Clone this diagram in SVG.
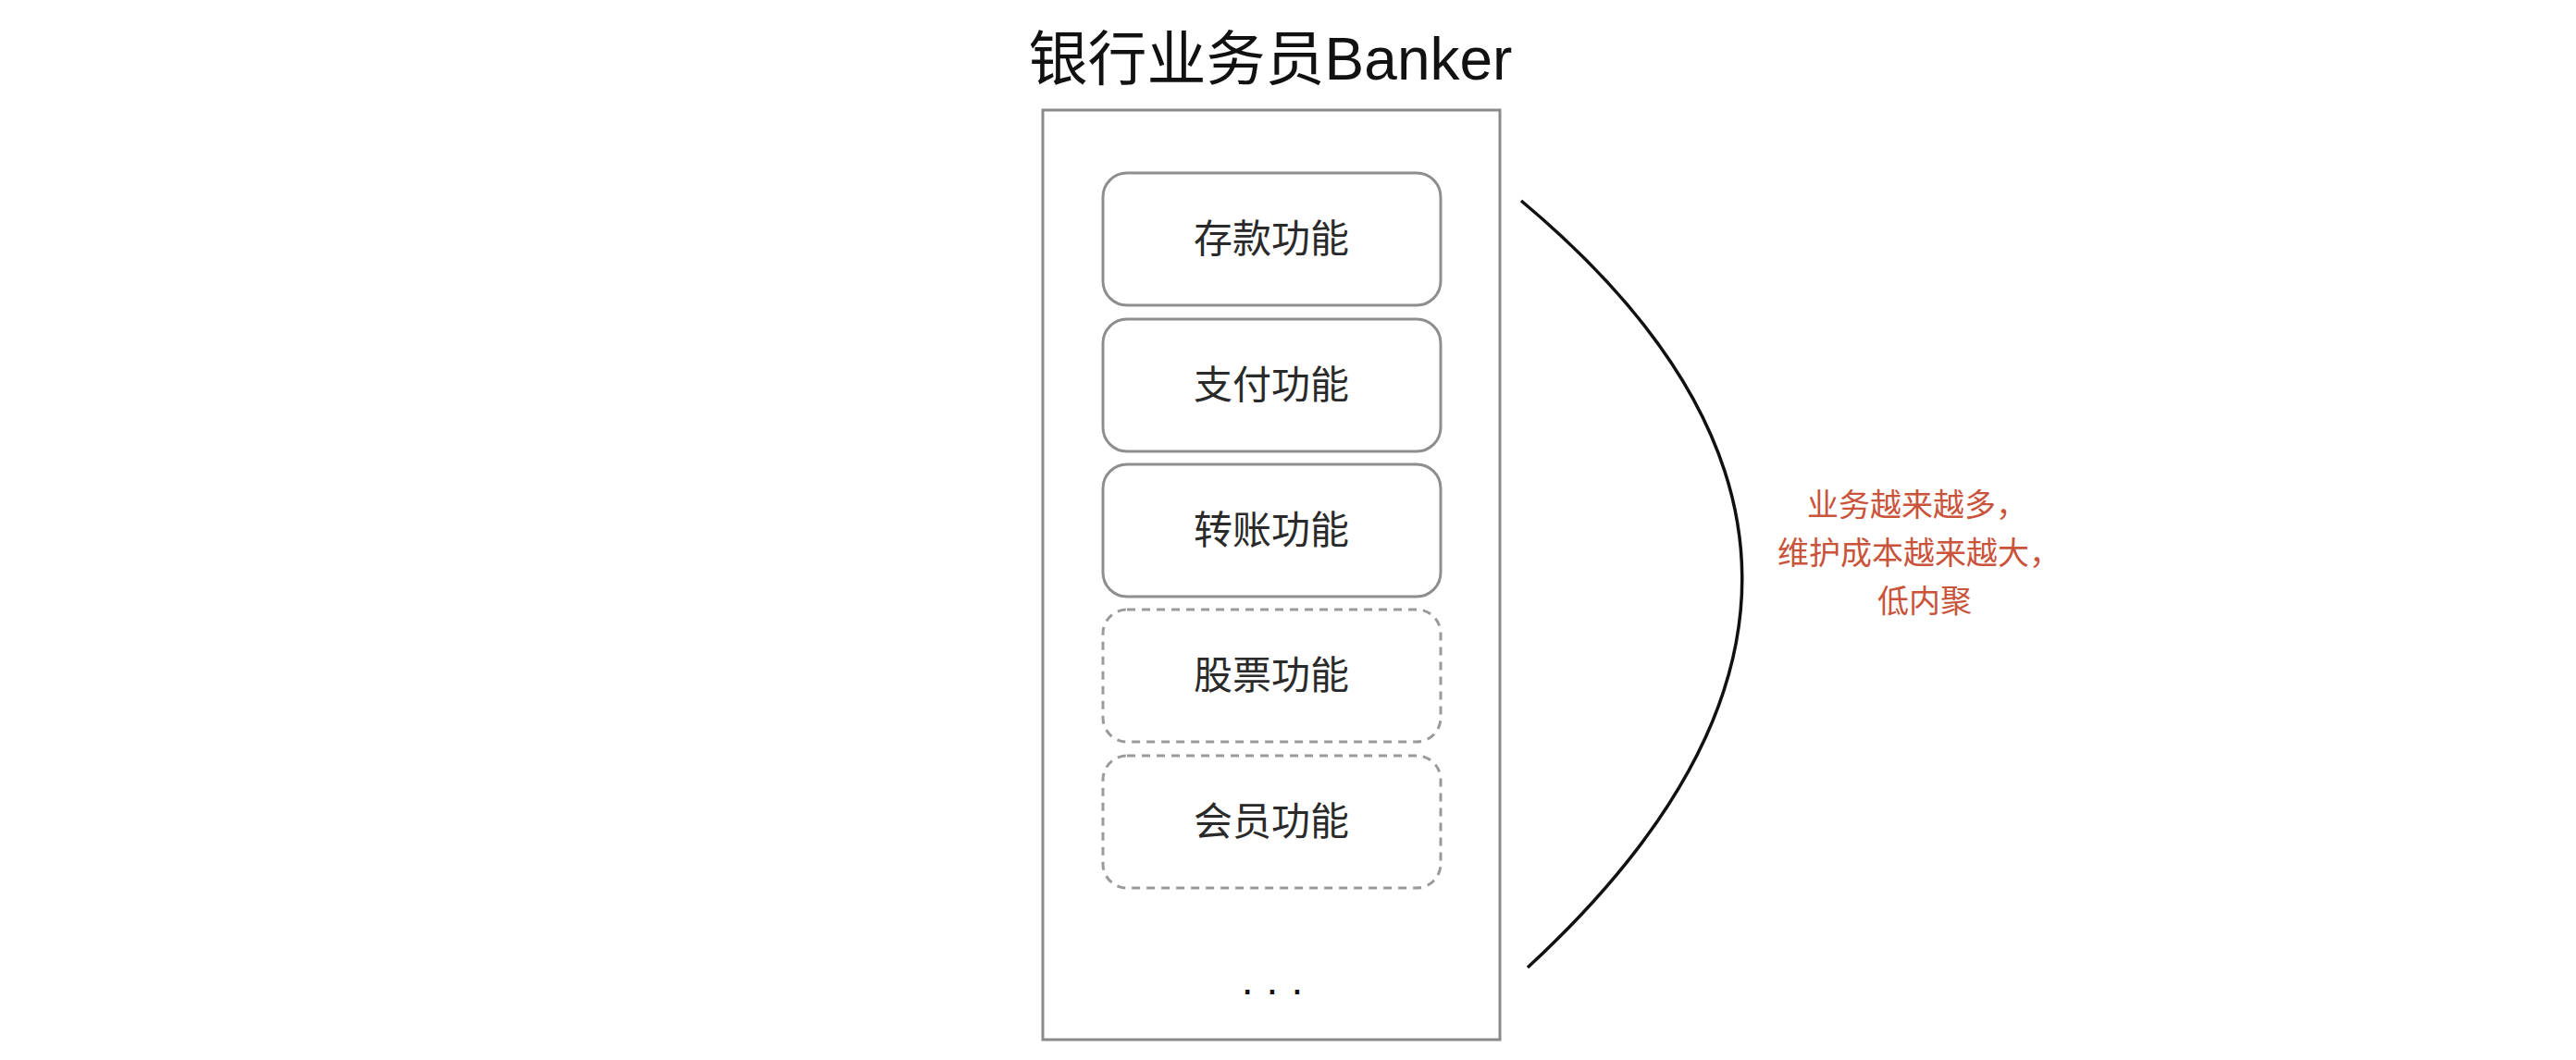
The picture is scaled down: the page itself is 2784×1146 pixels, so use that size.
<svg xmlns="http://www.w3.org/2000/svg" width="2784" height="1146" viewBox="0 0 2784 1146">
<style>
.title{font-family:"Liberation Sans","Noto Sans CJK SC",sans-serif;font-size:64px;fill:#111;text-anchor:middle}
.lbl{font-family:"Liberation Sans","Noto Sans CJK SC",sans-serif;font-size:42px;fill:#2a2a2a;text-anchor:middle;dominant-baseline:central}
.note{font-family:"Liberation Sans","Noto Sans CJK SC",sans-serif;font-size:34px;fill:#c9533b;text-anchor:middle}
.solid{fill:#fff;stroke:#8e8e8e;stroke-width:3}
.dash{fill:#fff;stroke:#9a9a9a;stroke-width:3;stroke-dasharray:9 7}
</style>
<rect width="2784" height="1146" fill="#fff"/>
<g id="banker">
<rect x="1127" y="119" width="494" height="1005" fill="#fff" stroke="#8a8a8a" stroke-width="3"/>
<text class="title" x="1373" y="86">银行业务员Banker</text>
<text x="1382" y="1075" font-family="Liberation Sans,sans-serif" font-size="46" fill="#111" text-anchor="middle" letter-spacing="14">...</text>
</g>
<g id="deposit"><rect class="solid" x="1192" y="187" width="365" height="143" rx="26"/><text class="lbl" x="1374" y="258">存款功能</text></g>
<g id="payment"><rect class="solid" x="1192" y="345" width="365" height="143" rx="26"/><text class="lbl" x="1374" y="416">支付功能</text></g>
<g id="transfer"><rect class="solid" x="1192" y="502" width="365" height="143" rx="26"/><text class="lbl" x="1374" y="573">转账功能</text></g>
<g id="stock"><rect class="dash" x="1192" y="659" width="365" height="143" rx="26"/><text class="lbl" x="1374" y="730">股票功能</text></g>
<g id="member"><rect class="dash" x="1192" y="817" width="365" height="143" rx="26"/><text class="lbl" x="1374" y="888">会员功能</text></g>
<g id="connectors">
<path d="M1644 217 Q2118 614 1651 1046" fill="none" stroke="#111" stroke-width="3.5"/>
</g>
<g id="note">
<text class="note" x="2072" y="558">业务越来越多，</text>
<text class="note" x="2074" y="610">维护成本越来越大，</text>
<text class="note" x="2080" y="662">低内聚</text>
</g>
</svg>
